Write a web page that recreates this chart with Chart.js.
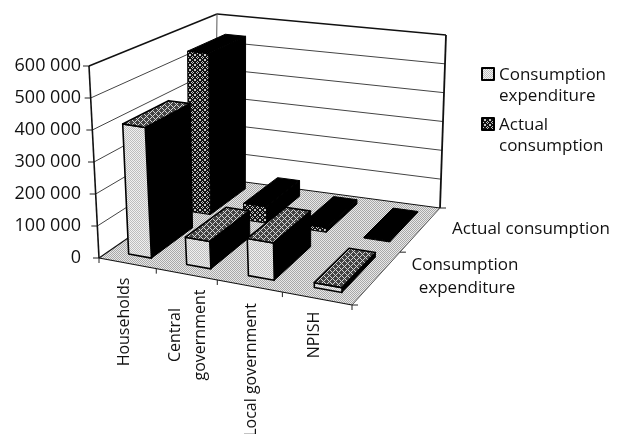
<!DOCTYPE html>
<html><head><meta charset="utf-8">
<script src="https://cdn.jsdelivr.net/npm/chart.js@4"></script>
<style>html,body{margin:0;padding:0;background:#fff;overflow:hidden}canvas{display:block}</style>
</head><body><canvas id="c" width="624" height="434"></canvas>
<script>
const categories = [['Households'], ['Central', 'government'], ['Local government'], ['NPISH']];
const seriesNames = ['Consumption expenditure', 'Actual consumption'];
const consumptionExpenditure = [410000, 85000, 115000, 15000];
const actualConsumption = [545000, 55000, 15000, 3000];
const yTickValues = [0, 100000, 200000, 300000, 400000, 500000, 600000];

// view geometry of the 3-D box (floor and top corners: front-left, front-right, back-right, back-left)
const FLOOR = [[99,258],[352,305],[440,208],[215,178]];
const ROOF = [[89,66],[358,107],[446,35],[217,14]];
const ROW_DEPTH = [[0.08,0.42],[0.58,0.92]];
const U_SHIFT = 0.01;
const FONT = '17px "Open Sans"';
const CAT_FONT = '16px "Open Sans"';
const LABEL_CY = [322,335,370,335];

function homography(q){
  const [[x0,y0],[x1,y1],[x2,y2],[x3,y3]] = q;
  const dx1=x1-x2,dx2=x3-x2,sx=x0-x1+x2-x3,dy1=y1-y2,dy2=y3-y2,sy=y0-y1+y2-y3;
  const den=dx1*dy2-dx2*dy1,g=(sx*dy2-dx2*sy)/den,h=(dx1*sy-sx*dy1)/den;
  const a=x1-x0+g*x1,b=x3-x0+h*x3,d=y1-y0+g*y1,e=y3-y0+h*y3;
  return (u,v)=>{const w=g*u+h*v+1;return [(a*u+b*v+x0)/w,(d*u+e*v+y0)/w];};
}
const hF=homography(FLOOR), hR=homography(ROOF);
function P(u,v,w){const a=hF(u,v),b=hR(u,v);return [a[0]+(b[0]-a[0])*w,a[1]+(b[1]-a[1])*w];}

function bitmap(ctx,rows,dark,light){
  const n=rows.length,m=rows[0].length,c=document.createElement('canvas');c.width=m;c.height=n;
  const g=c.getContext('2d');
  for(let y=0;y<n;y++)for(let x=0;x<m;x++){g.fillStyle=rows[y][x]==='1'?dark:light;g.fillRect(x,y,1,1);}
  return ctx.createPattern(c,'repeat');
}
function poly(ctx,pts,fill,stroke,lw){
  ctx.beginPath();pts.forEach((p,i)=>i?ctx.lineTo(p[0],p[1]):ctx.moveTo(p[0],p[1]));ctx.closePath();
  if(fill){ctx.fillStyle=fill;ctx.fill();}
  if(stroke){ctx.strokeStyle=stroke;ctx.lineWidth=lw||1;ctx.lineJoin='round';ctx.stroke();}
}
function line(ctx,a,b,color,lw){ctx.beginPath();ctx.moveTo(a[0],a[1]);ctx.lineTo(b[0],b[1]);ctx.strokeStyle=color;ctx.lineWidth=lw;ctx.stroke();}

const box3d = {
  id:'box3d',
  afterDatasetsDraw(chart){
    const ctx=chart.ctx,xs=chart.scales.x,ys=chart.scales.y,A=chart.chartArea;
    const W=A.right-A.left,H=A.bottom-A.top;
    const floorPat=bitmap(ctx,['10','01'],'#a8a8a8','#e8e8e8');
    const lightPat=bitmap(ctx,['10','01'],'#bdbdbd','#f0f0f0');
    const hatchPat=bitmap(ctx,['100010','010100','001000','010100','100010','000001'],'#d8d8d8','#444');
    const darkPat=bitmap(ctx,['10001','00100','01010','00100','10001'],'#c4c4c4','#111');
    ctx.save();
    // walls and gridlines
    yTickValues.forEach(val=>{
      const w=(A.bottom-ys.getPixelForValue(val))/H;
      const top=val===yTickValues[yTickValues.length-1];
      if(val>0){
        line(ctx,P(0,0,w),P(0,1,w),top?'#111':'#444',top?1.5:1);
        line(ctx,P(0,1,w),P(1,1,w),top?'#111':'#444',top?1.5:1);
      }
      const a=P(0,0,w);line(ctx,a,[a[0]-6,a[1]],'#222',1);
    });
    line(ctx,P(0,1,0),P(0,1,1),'#555',1);
    // floor
    poly(ctx,FLOOR,floorPat,null);
    line(ctx,P(0,0,0),P(1,0,0),'#111',1.2);
    line(ctx,P(0,0,0),P(0,1,0),'#111',1.2);
    line(ctx,P(0,1,0),P(1,1,0),'#111',1);
    line(ctx,P(1,0,0),P(1,1,0),'#555',1);
    line(ctx,P(0,0,0),P(0,0,1),'#111',1.6);
    line(ctx,P(1,1,0),P(1,1,1),'#111',1.8);
    for(let i=0;i<=categories.length;i++){const a=P(i/categories.length,0,0);line(ctx,a,[a[0],a[1]+5],'#222',1);}
    [0,0.5,1].forEach(v=>{const a=P(1,v,0);line(ctx,a,[a[0]+6,a[1]],'#222',1);});
    // bars, back row first
    for(let ds=chart.data.datasets.length-1;ds>=0;ds--){
      const els=chart.getDatasetMeta(ds).data,[v0,v1]=ROW_DEPTH[ds];
      els.forEach(el=>{
        const u0=(el.x-el.width/2-A.left)/W+U_SHIFT,u1=(el.x+el.width/2-A.left)/W+U_SHIFT,w=(A.bottom-el.y)/H;
        const f=[P(u0,v0,0),P(u1,v0,0),P(u1,v0,w),P(u0,v0,w)];
        const s=[P(u1,v0,0),P(u1,v1,0),P(u1,v1,w),P(u1,v0,w)];
        const t=[P(u0,v0,w),P(u1,v0,w),P(u1,v1,w),P(u0,v1,w)];
        poly(ctx,s,'#000','#000',1);
        if(ds===0){
          poly(ctx,f,lightPat,'#000',1.6);
          poly(ctx,t,hatchPat,'#000',1.6);
        }else{
          poly(ctx,f,darkPat,'#000',1);
          poly(ctx,t,'#000','#000',1);
        }
      });
    }
    // category labels, placed from the category scale
    const ink='#111';
    ctx.fillStyle=ink;ctx.font=CAT_FONT;
    categories.forEach((lines,i)=>{
      const px=xs.getPixelForValue(i)-6;
      ctx.save();ctx.translate(px,LABEL_CY[i]);ctx.rotate(-Math.PI/2);
      ctx.textAlign='center';ctx.textBaseline='middle';
      lines.forEach((t,k)=>ctx.fillText(t,0,(k-(lines.length-1)/2)*25));
      ctx.restore();
    });
    // series axis labels
    ctx.font=FONT;
    ctx.textAlign='center';ctx.textBaseline='middle';
    ctx.fillText(seriesNames[1],531,229);
    const ce=seriesNames[0].split(' ');
    ctx.fillText(ce[0],465,265);ctx.fillText(ce[1],467,288);
    // legend
    ctx.textAlign='left';ctx.textBaseline='alphabetic';
    poly(ctx,[[482,68],[494,68],[494,80],[482,80]],lightPat,'#000',2);
    ctx.fillStyle=ink;
    seriesNames[0].split(' ').forEach((t,k)=>ctx.fillText(t,499,80+k*21));
    poly(ctx,[[482,118],[494,118],[494,130],[482,130]],darkPat,'#000',2);
    ctx.fillStyle=ink;
    seriesNames[1].split(' ').forEach((t,k)=>ctx.fillText(t,499,130+k*21));
    ctx.restore();
  }
};

new Chart(document.getElementById('c'),{
  type:'bar',
  data:{labels:categories.map(l=>l.join(' ')),datasets:[
    {label:seriesNames[0],data:consumptionExpenditure,backgroundColor:'rgba(0,0,0,0)'},
    {label:seriesNames[1],data:actualConsumption,backgroundColor:'rgba(0,0,0,0)'}
  ]},
  options:{
    responsive:false,animation:false,events:[],
    layout:{padding:{top:66,right:272,bottom:176,left:0}},
    datasets:{bar:{grouped:false,barPercentage:0.4,categoryPercentage:1}},
    plugins:{legend:{display:false},tooltip:{enabled:false},title:{display:false}},
    scales:{
      x:{display:false},
      y:{min:0,max:600000,afterFit(s){s.width=99;},
        afterBuildTicks(s){s.ticks=yTickValues.map(value=>({value}));},
        border:{display:false},grid:{display:false,drawTicks:false},
        ticks:{padding:18,color:'#111',font:{family:'"Open Sans"',size:18},
          callback:v=>String(v).replace(/\B(?=(\d{3})+$)/g,' ')}}
    }
  },
  plugins:[box3d]
});
</script></body></html>
